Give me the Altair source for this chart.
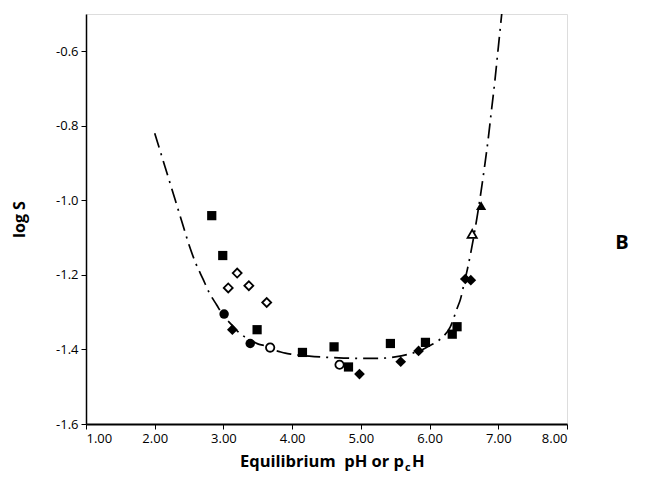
import altair as alt
import pandas as pd

# Model curve (dash-dot)
curve_ph = [2.00, 2.10, 2.20, 2.30, 2.40, 2.50, 2.60, 2.70, 2.80, 2.90,
            3.00, 3.10, 3.20, 3.30, 3.40, 3.50, 3.60, 3.70, 3.80, 3.90,
            4.00, 4.25, 4.50, 4.75, 5.00, 5.25, 5.50, 5.75, 5.90, 6.00,
            6.10, 6.20, 6.30, 6.40, 6.45, 6.50, 6.55, 6.60, 6.65, 6.70,
            6.75, 6.80, 6.85, 6.90, 6.95, 7.00, 7.05]
curve_logs = [-0.82, -0.88, -0.94, -1.00, -1.06, -1.12, -1.17, -1.21, -1.25, -1.28,
              -1.31, -1.33, -1.35, -1.365, -1.375, -1.385, -1.39, -1.40, -1.405, -1.41,
              -1.413, -1.418, -1.421, -1.423, -1.424, -1.424, -1.42, -1.41, -1.40, -1.39,
              -1.38, -1.365, -1.34, -1.29, -1.265, -1.225, -1.185, -1.14, -1.09, -1.035,
              -0.975, -0.91, -0.84, -0.76, -0.68, -0.59, -0.50]

# Measured points
sq_ph = [2.83, 2.99, 3.49, 4.15, 4.61, 4.82, 5.43, 5.94, 6.33, 6.40]
sq_logs = [-1.041, -1.148, -1.347, -1.408, -1.393, -1.447, -1.384, -1.381, -1.359, -1.339]
dia_ph = [3.13, 4.98, 5.58, 5.84, 6.52, 6.60]
dia_logs = [-1.347, -1.466, -1.433, -1.404, -1.211, -1.214]
odia_ph = [3.07, 3.20, 3.37, 3.63]
odia_logs = [-1.235, -1.195, -1.229, -1.274]
circ_ph = [3.01, 3.39]
circ_logs = [-1.305, -1.384]
ocirc_ph = [3.68, 4.69]
ocirc_logs = [-1.395, -1.441]
tri_ph = [6.75]
tri_logs = [-1.014]
otri_ph = [6.62]
otri_logs = [-1.09]

x_ticks = [1, 2, 3, 4, 5, 6, 7, 8]
y_ticks = [-1.6, -1.5, -1.4, -1.3, -1.2, -1.1, -1.0, -0.9, -0.8, -0.7, -0.6, -0.5]

FONT = "Open Sans"

xscale = alt.Scale(domain=[1, 8], nice=False, zero=False)
yscale = alt.Scale(domain=[-1.6, -0.5], nice=False, zero=False)

xaxis = alt.Axis(values=x_ticks, format=".2f", title="", grid=False,
                 tickSize=5, tickColor="black", tickWidth=1,
                 domainColor="black", domainWidth=2,
                 labelFont=FONT, labelFontSize=13, labelColor="black", labelPadding=3)
yaxis = alt.Axis(values=y_ticks, grid=False,
                 labelExpr="abs(round(datum.value*10)) % 2 == 0 ? replace(format(datum.value, '.1f'), '\u2212', '-') : ''",
                 title="log S", titleFont=FONT, titleFontSize=16, titleFontWeight="bold",
                 titleColor="black", titlePadding=28,
                 tickSize=5, tickColor="black", tickWidth=1,
                 domainColor="black", domainWidth=1.5,
                 labelFont=FONT, labelFontSize=13, labelColor="black", labelPadding=3)

curve_df = pd.DataFrame({"ph": curve_ph, "logs": curve_logs})
line = alt.Chart(curve_df).mark_line(color="black", strokeWidth=1.7,
                                     strokeDash=[15, 6, 2, 6], interpolate="monotone").encode(
    x=alt.X("ph:Q", scale=xscale, axis=xaxis),
    y=alt.Y("logs:Q", scale=yscale, axis=yaxis),
)


def pts(xs, ys, shape, size, filled):
    df = pd.DataFrame({"ph": xs, "logs": ys})
    if filled:
        mk = alt.Chart(df).mark_point(shape=shape, size=size, filled=True,
                                      color="black", opacity=1)
    else:
        mk = alt.Chart(df).mark_point(shape=shape, size=size, filled=True,
                                      fill="white", stroke="black", strokeWidth=1.8,
                                      opacity=1)
    return mk.encode(x=alt.X("ph:Q", scale=xscale), y=alt.Y("logs:Q", scale=yscale))


layers = [
    line,
    pts(sq_ph, sq_logs, "square", 85, True),
    pts(dia_ph, dia_logs, "diamond", 115, True),
    pts(odia_ph, odia_logs, "diamond", 80, False),
    pts(circ_ph, circ_logs, "circle", 90, True),
    pts(ocirc_ph, ocirc_logs, "circle", 70, False),
    pts(tri_ph, tri_logs, "triangle-up", 105, True),
    pts(otri_ph, otri_logs, "triangle-up", 85, False),
]

# Panel letter and x-axis title (with subscript c)
letter = alt.Chart(pd.DataFrame({"t": ["B"]})).mark_text(
    font=FONT, fontSize=20, fontWeight="bold", color="black", align="center", baseline="middle"
).encode(text="t:N", x=alt.value(536), y=alt.value(229))

title_main = alt.Chart(pd.DataFrame({"t": ["Equilibrium\u00a0 pH or p"]})).mark_text(
    font=FONT, fontSize=16.5, fontWeight="bold", color="black", align="right", baseline="alphabetic"
).encode(text="t:N", x=alt.value(318), y=alt.value(453))
title_sub = alt.Chart(pd.DataFrame({"t": ["c"]})).mark_text(
    font=FONT, fontSize=11, fontWeight="bold", color="black", align="left", baseline="alphabetic"
).encode(text="t:N", x=alt.value(319), y=alt.value(457))
title_h = alt.Chart(pd.DataFrame({"t": ["H"]})).mark_text(
    font=FONT, fontSize=16.5, fontWeight="bold", color="black", align="left", baseline="alphabetic"
).encode(text="t:N", x=alt.value(326), y=alt.value(453))

chart = alt.layer(*layers, letter, title_main, title_sub, title_h).properties(
    width=481, height=410,
    autosize=alt.AutoSizeParams(type="none"),
    padding={"left": 78, "top": 6, "right": 90, "bottom": 70},
).configure_view(stroke=None).configure(background="white")

chart.save("out.html", embed_options={"renderer": "svg", "actions": False})
